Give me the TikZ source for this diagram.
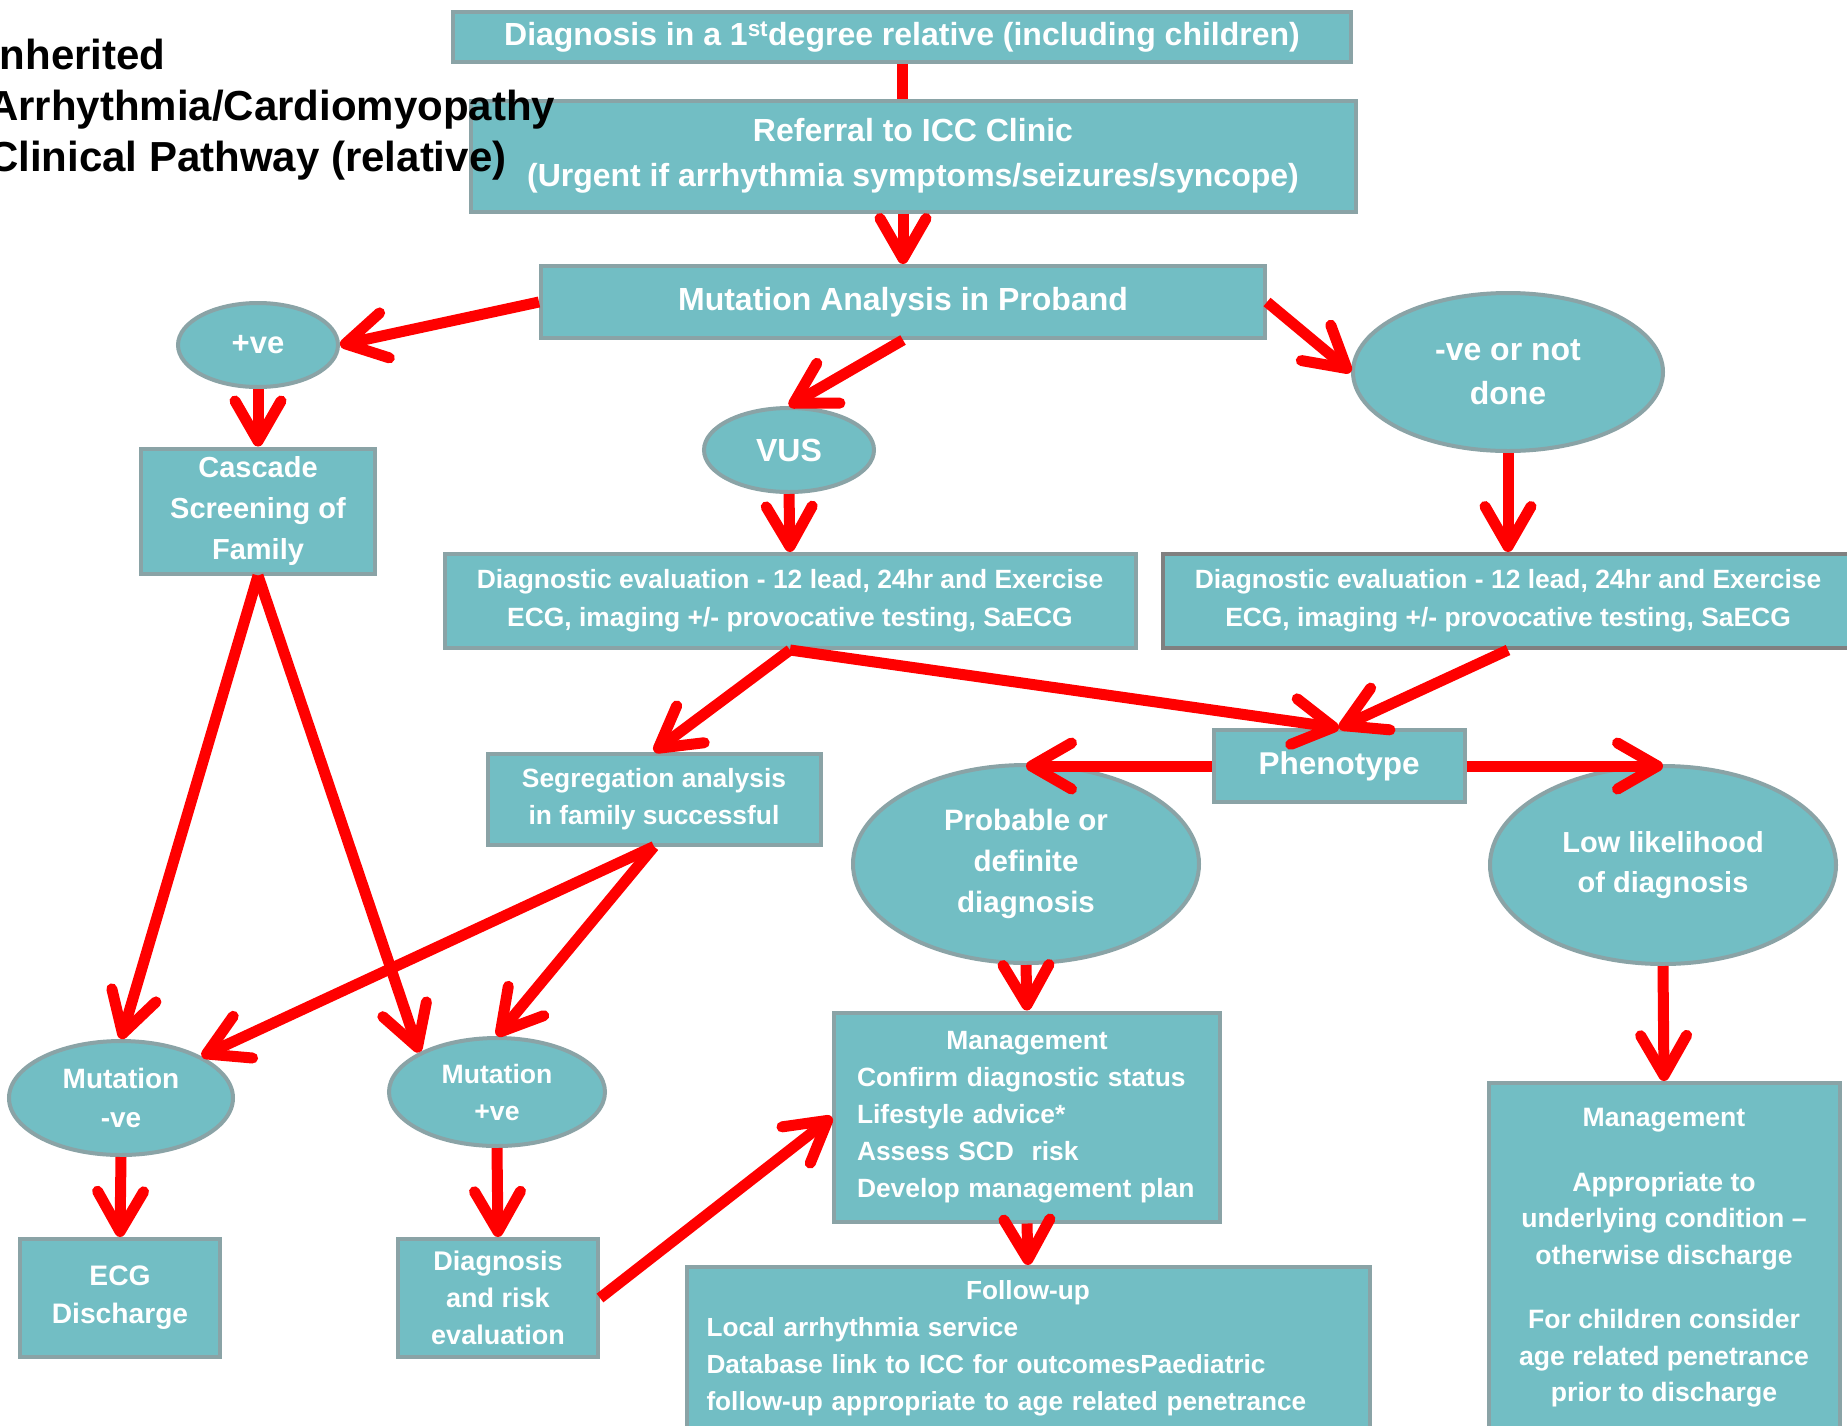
\documentclass[tikz,border=0pt]{standalone}
\usepackage{fontspec}
\setmainfont{Liberation Sans}
\usetikzlibrary{arrows.meta, shapes.geometric, calc}
\definecolor{boxTeal}{RGB}{114,190,196}
\definecolor{boxGray}{RGB}{138,163,166}
\definecolor{edgeGray}{RGB}{128,128,128}
\definecolor{flowRed}{RGB}{255,0,0}
\newcommand{\fsize}[2]{\fontsize{#1}{#2}\selectfont\bfseries}

\begin{document}
\begin{tikzpicture}[x=1pt, y=-1pt,
    box/.style={draw=boxGray, line width=4pt, fill=boxTeal, text=white, align=center, inner sep=0pt},
    oval/.style={box, ellipse},
    flow/.style={flowRed, line width=11pt, -{Straight Barb[length=40pt,width=46pt,round]}},
    link/.style={flowRed, line width=11pt}]
    \fill[white] (0,0) rectangle (1847,1425);
    \useasboundingbox (0,0) rectangle (1847,1425);

    % Referral chain
    \node[box, minimum width=898, minimum height=50, font=\fsize{32}{36}] (first) at (902,37) {Diagnosis in a 1\textsuperscript{st}degree relative (including children)};
    \node[box, minimum width=885, minimum height=111, font=\fsize{32}{45}] (referral) at (913,156) {Referral to ICC Clinic\\(Urgent if arrhythmia symptoms/seizures/syncope)};
    \node[box, minimum width=724, minimum height=72, font=\fsize{32}{36}] (proband) at (903,302) {Mutation Analysis in Proband};

    % Results of the analysis
    \node[oval, minimum width=160, minimum height=84, font=\fsize{31}{34}] (pos) at (258,345) {+ve};
    \node[oval, minimum width=170, minimum height=84, font=\fsize{32}{34}] (vus) at (789,450) {VUS};
    \node[oval, minimum width=310, minimum height=158, font=\fsize{32}{44}] (neg) at (1508,372) {-ve or not\\done};

    \node[box, minimum width=234, minimum height=125, font=\fsize{29}{41}] (cascade) at (258,511) {Cascade\\Screening of\\Family};
    \node[box, minimum width=691, minimum height=94, font=\fsize{26.4}{38}] (ldiag) at (790,601) {Diagnostic evaluation - 12 lead, 24hr and Exercise\\ECG, imaging +/- provocative testing, SaECG};
    \node[box, draw=edgeGray, minimum width=690, minimum height=94, font=\fsize{26.4}{38}] (rdiag) at (1508,601) {Diagnostic evaluation - 12 lead, 24hr and Exercise\\ECG, imaging +/- provocative testing, SaECG};
    \node[box, minimum width=333, minimum height=91, font=\fsize{26.4}{37}] (segr) at (654,799) {Segregation analysis\\in family successful};

    % Phenotype
    \node[box, minimum width=251, minimum height=72, font=\fsize{31.5}{36}] (pheno) at (1339,766) {Phenotype};
    \node[oval, minimum width=346, minimum height=198, font=\fsize{29.5}{41}] (prob) at (1026,864) {Probable or\\definite\\diagnosis};
    \node[oval, minimum width=346, minimum height=198, font=\fsize{29}{40}] (low) at (1663,865) {Low likelihood\\of diagnosis};

    % Management
    \node[box, minimum width=386, minimum height=209, text width=340, align=left, font=\fsize{26.4}{37}] (mgmt) at (1027,1117) {\makebox[\linewidth]{Management}\\Confirm diagnostic status\\Lifestyle advice*\\Assess SCD\ \ risk\\Develop management plan};
    \node[box, minimum width=683, minimum height=162, text width=643, align=left, font=\fsize{26.2}{37}] (follow) at (1028,1348) {\makebox[\linewidth]{Follow-up}\\Local arrhythmia service\\Database link to ICC for outcomesPaediatric\\follow-up appropriate to age related penetrance};
    \node[box, minimum width=351, minimum height=350, font=\fsize{26.6}{36.5}] (rmgmt) at (1664,1258) {Management\\[28pt]Appropriate to\\underlying condition –\\otherwise discharge\\[28pt]For children consider\\age related penetrance\\prior to discharge};

    % Family members
    \node[oval, minimum width=224, minimum height=114, font=\fsize{28}{39}] (mneg) at (121,1098) {Mutation\\-ve};
    \node[oval, minimum width=216, minimum height=108, font=\fsize{26.6}{37}] (mpos) at (497,1092) {Mutation\\+ve};
    \node[box, minimum width=200, minimum height=118, font=\fsize{28.2}{38}] (ecg) at (120,1298) {ECG\\Discharge};
    \node[box, minimum width=200, minimum height=118, font=\fsize{27}{37}] (drisk) at (498,1298) {Diagnosis\\and risk\\evaluation};

    % Arrows
    \draw[link] (first.south) -- (first.south |- referral.north);
    \draw[flow] (proband.north |- referral.south) -- (proband.north);
    \draw[flow] (proband.west) -- (pos.east);
    \draw[flow] (proband.south) -- (vus.north);
    \draw[flow] (proband.east) -- (neg.west);
    \draw[flow] (pos.south) -- (cascade.north);
    \draw[flow] (vus.south) -- (ldiag.north);
    \draw[flow] (neg.south) -- (rdiag.north);
    \draw[flow] (ldiag.south) -- (segr.north);
    \draw[flow] (ldiag.south) -- (pheno.north);
    \draw[flow] (rdiag.south) -- (pheno.north);
    \draw[flow] (pheno.west) -- (pheno.west -| prob.north);
    \draw[flow] (pheno.east) -- (pheno.east -| low.north);
    \draw[flow] (prob.south) -- (mgmt.north);
    \draw[flow] (low.south) -- (rmgmt.north);
    \draw[flow] (mgmt.south) -- (follow.north);
    \draw[flow] (cascade.south) -- (mneg.north);
    \draw[flow] (cascade.south) -- (mpos.north west);
    \draw[flow] (segr.south) -- (mneg.north east);
    \draw[flow] (segr.south) -- (mpos.north);
    \draw[flow] (mneg.south) -- (ecg.north);
    \draw[flow] (mpos.south) -- (drisk.north);
    \draw[flow] (drisk.east) -- (mgmt.west);

    % Title
    \node[anchor=west, align=left, inner sep=0pt, font=\fsize{42}{51}] (title) at (-12,110) {Inherited\\Arrhythmia/Cardiomyopathy\\Clinical Pathway (relative)};
\end{tikzpicture}
\end{document}
